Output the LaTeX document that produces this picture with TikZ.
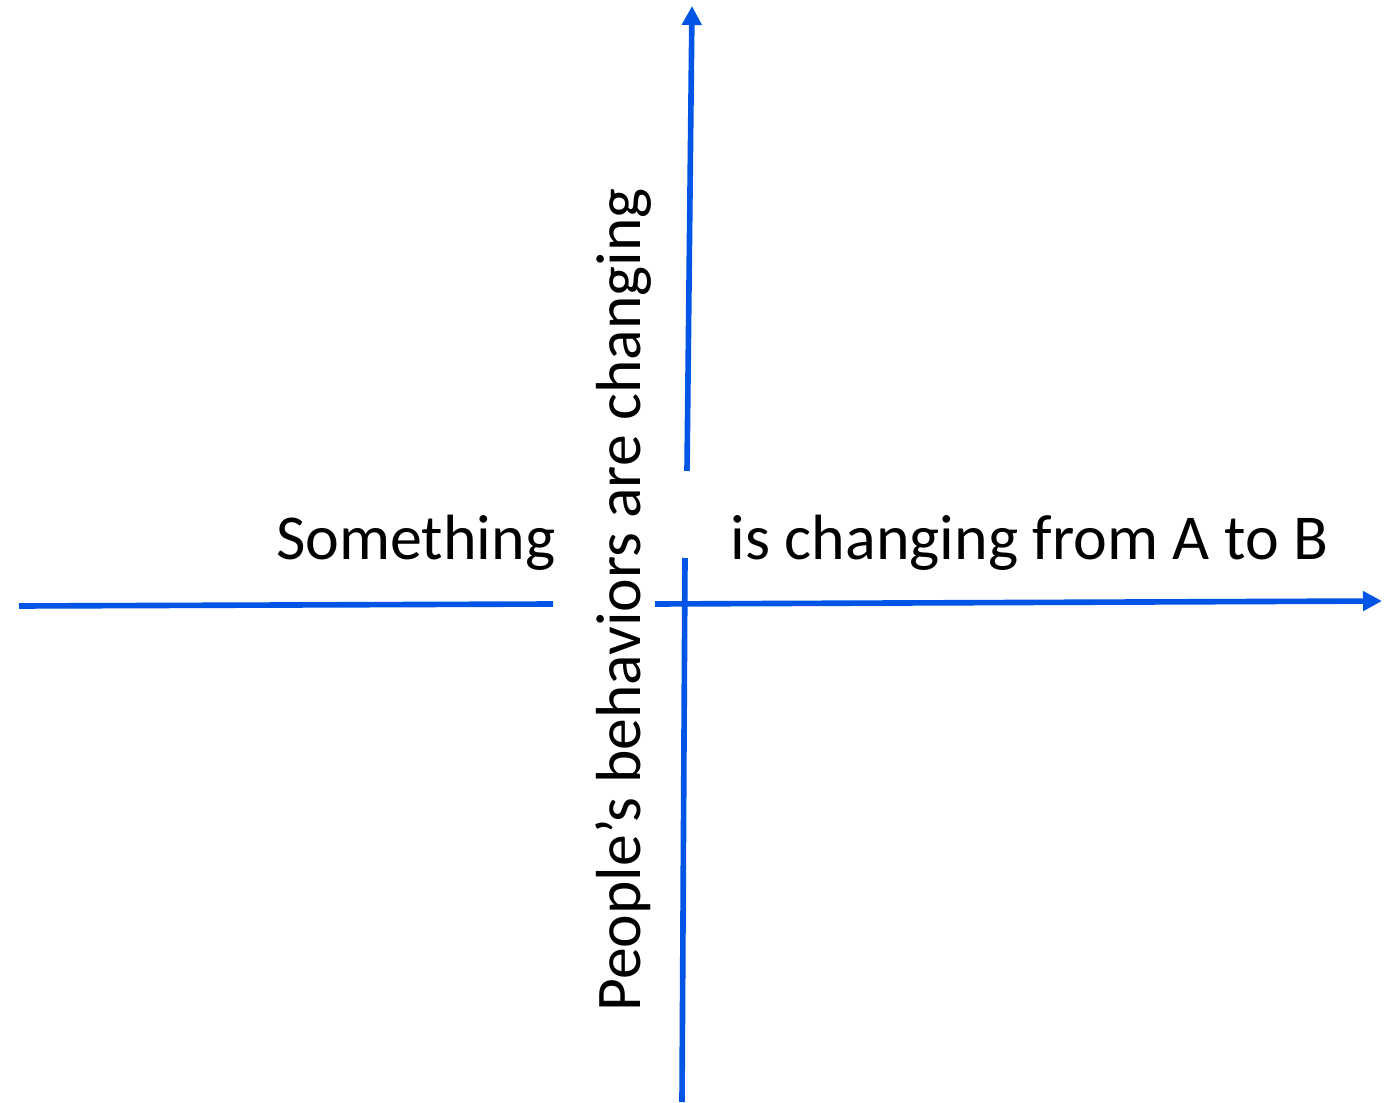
\documentclass[tikz,border=0pt]{standalone}
\usepackage{fontspec}
\setmainfont{Carlito}
\usetikzlibrary{arrows.meta}
\definecolor{ejeazul}{RGB}{0,84,230}
\tikzset{
  eje/.style={draw=ejeazul, line width=1.6pt},
  flecha/.style={eje, -{Triangle[length=0.19cm, width=0.19cm]}},
  rotulo/.style={inner sep=0pt, font=\fontsize{18.2}{20}\selectfont}
}
\begin{document}
\begin{tikzpicture}[line cap=butt]
  \useasboundingbox (0,0) rectangle (13.94,11.02);
  % los extremos de los ejes
  \coordinate (izqA) at (0.19,4.96);
  \coordinate (izqB) at (5.53,4.98);
  \coordinate (derA) at (6.55,4.98);
  \coordinate (derB) at (13.82,5.01);
  \coordinate (arrA) at (6.87,6.31);
  \coordinate (arrB) at (6.92,10.96);
  \coordinate (abaA) at (6.85,5.44);
  \coordinate (abaB) at (6.82,0.0);
  % el eje horizontal, partido
  \draw[eje] (izqA) -- (izqB);
  \draw[flecha] (derA) -- (derB);
  % el eje vertical, partido
  \draw[flecha] (arrA) -- (arrB);
  \draw[eje] (abaA) -- (abaB);
  % los textos
  \node[rotulo, anchor=base east] (algo) at (5.56,5.43) {Something};
  \node[rotulo, anchor=base west] (cambio) at (7.30,5.43) {is changing from A to B};
  \node[rotulo, anchor=base west, rotate=90, font=\fontsize{18.1}{20}\selectfont]
    (gente) at (6.405,0.90) {People’s behaviors are changing};
\end{tikzpicture}
\end{document}
